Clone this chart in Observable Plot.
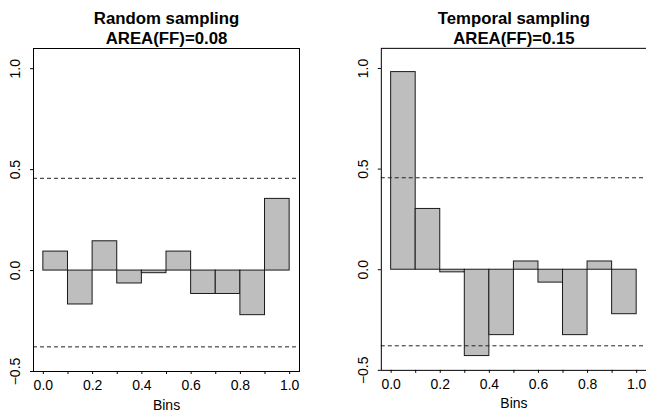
<!DOCTYPE html>
<html>
<head>
<meta charset="utf-8">
<script src="https://cdn.jsdelivr.net/npm/d3@7"></script>
<script src="https://cdn.jsdelivr.net/npm/@observablehq/plot@0.6"></script>
<style>
  html, body { margin: 0; padding: 0; background: #fff; overflow: hidden; width: 646px; height: 414px; }
  #wrap { position: relative; width: 646px; height: 414px; overflow: hidden; }
  #left, #right { position: absolute; top: 0; }
  #left { left: 0; }
  #right { left: 323px; }
  svg { display: block; overflow: hidden; }
</style>
</head>
<body>
<div id="wrap"><div id="left"></div><div id="right"></div></div>
<script>
// Bins (left edge, right edge)
const binStart = [0.0, 0.1, 0.2, 0.3, 0.4, 0.5, 0.6, 0.7, 0.8, 0.9];
const binEnd   = [0.1, 0.2, 0.3, 0.4, 0.5, 0.6, 0.7, 0.8, 0.9, 1.0];

// Series values
const randomValues   = [0.094, -0.168, 0.145, -0.064, -0.013, 0.094, -0.116, -0.116, -0.221, 0.355];
const temporalValues = [0.982, 0.302, -0.013, -0.429, -0.325, 0.041, -0.064, -0.325, 0.041, -0.221];

// Titles
const randomTitle   = ["Random sampling", "AREA(FF)=0.08"];
const temporalTitle = ["Temporal sampling", "AREA(FF)=0.15"];

// Reference (dashed) levels
const dashedLevels = [0.457, -0.378];

// Ticks
const xTicks  = [0.0, 0.1, 0.2, 0.3, 0.4, 0.5, 0.6, 0.7, 0.8, 0.9, 1.0];
const xLabels = ["0.0", "", "0.2", "", "0.4", "", "0.6", "", "0.8", "", "1.0"];
const yTicks  = [-0.5, 0.0, 0.5, 1.0];
const yLabels = ["\u22120.5", "0.0", "0.5", "1.0"];
const xTitle = "Bins";

const FONT = "'Liberation Sans', Arial, Helvetica, sans-serif";

function panel(values, title, width, marginLeft, marginRight) {
  const data = values.map((v, i) => ({x1: binStart[i], x2: binEnd[i], v}));
  const yt = yTicks.map((t, i) => ({t, label: yLabels[i]}));
  return Plot.plot({
    width,
    height: 414,
    marginLeft,
    marginRight,
    marginTop: 48,
    marginBottom: 43,
    style: {fontFamily: FONT, fontSize: "14px", color: "#000", background: "#fff", overflow: "hidden"},
    x: {domain: [-0.04, 1.04]},
    y: {domain: [-0.5, 1.1]},
    marks: [
      Plot.rect(data, {x1: "x1", x2: "x2", y1: () => 0, y2: "v", fill: "#bebebe", stroke: "#1a1a1a", strokeWidth: 1}),
      Plot.ruleY(dashedLevels, {stroke: "#222", strokeDasharray: "4,3", strokeWidth: 1}),
      Plot.frame({stroke: "#000", strokeWidth: 1}),
      Plot.axisX({ticks: xTicks, tickFormat: (d, i) => xLabels[i], tickSize: 3, tickPadding: 6, label: null, fontSize: 14, stroke: "#000"}),
      Plot.axisY({ticks: yTicks, tickFormat: () => "", tickSize: 3, label: null, stroke: "#000"}),
      Plot.text(yt, {y: "t", text: "label", frameAnchor: "left", dx: -18, rotate: -90, textAnchor: "middle", lineAnchor: "middle", fontSize: 14, fill: "#000"}),
      Plot.text([xTitle], {frameAnchor: "bottom", lineAnchor: "bottom", dy: 38, fontSize: 14, fill: "#000"}),
      Plot.text([title.join("\n")], {frameAnchor: "top", lineAnchor: "bottom", dy: -4.5, lineHeight: 1.19, fontSize: 16.8, fontWeight: "bold", fill: "#000"})
    ]
  });
}

document.getElementById("left").appendChild(panel(randomValues, randomTitle, 323, 33, 24));
document.getElementById("right").appendChild(panel(temporalValues, temporalTitle, 324, 58, 0));
</script>
</body>
</html>
